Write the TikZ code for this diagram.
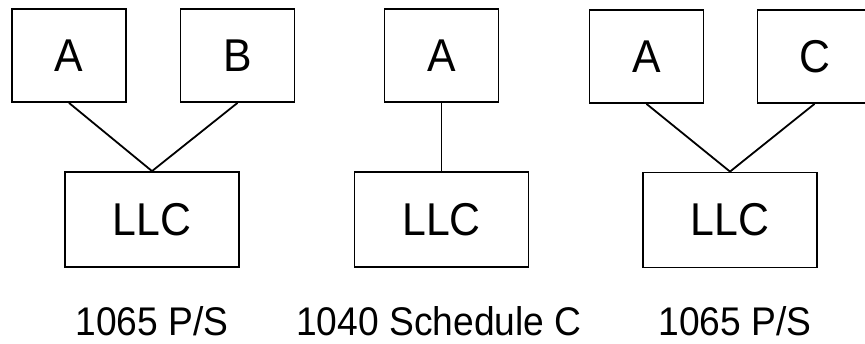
\documentclass[tikz,border=0pt]{standalone}
\usepackage{fontspec}
\setmainfont{Liberation Sans}[FakeStretch=0.93]
\begin{document}
\begin{tikzpicture}[x=1pt,y=-1pt,
  box/.style={draw=black,line width=1.8pt,inner sep=0pt,font=\fontsize{46}{50}\selectfont},
  owner/.style={box,minimum width=114pt,minimum height=93pt},
  llc/.style={box,minimum width=174pt,minimum height=95pt},
  lbl/.style={anchor=base,inner sep=0pt,font=\fontsize{40}{44}\selectfont},
  link/.style={line width=1.8pt}]
\useasboundingbox (0,0) rectangle (865,343);
\begin{scope}
\clip (0,0) rectangle (865,343);
% group 1
\node[owner] (a1) at (69,55.5) {A};
\node[owner] (b1) at (237.5,55.5) {B};
\node[llc] (l1) at (152,219.5) {LLC};
\draw[link] (a1.south) -- (l1.north);
\draw[link] (b1.south) -- (l1.north);
\node[lbl] (t1) at (152,335) {1065 P/S};
% group 2
\node[owner] (a2) at (441.5,55.5) {A};
\node[llc] (l2) at (441.5,219.5) {LLC};
\draw[link] (a2.south) -- (l2.north);
\node[lbl] (t2) at (439,335) {1040 Schedule C};
% group 3
\node[owner] (a3) at (646.5,56.5) {A};
\node[owner] (c3) at (814.5,56.5) {C};
\node[llc] (l3) at (730,220) {LLC};
\draw[link] (a3.south) -- (l3.north);
\draw[link] (c3.south) -- (l3.north);
\node[lbl] (t3) at (735,335) {1065 P/S};
\end{scope}
\end{tikzpicture}
\end{document}
